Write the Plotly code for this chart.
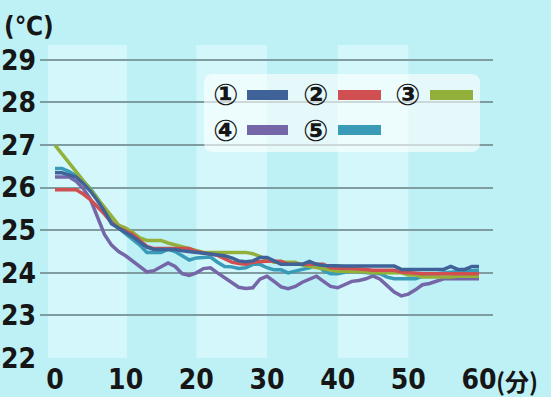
import plotly.graph_objects as go

# ---- data ----
minutes = list(range(0, 61))
tick_vals = [0, 10, 20, 30, 40, 50, 60]
tick_text = ["0", "10", "20", "30", "40", "50", "60"]
y_ticks = [22, 23, 24, 25, 26, 27, 28, 29]
series_names = ["①", "②", "③", "④", "⑤"]

s1 = [26.35, 26.35, 26.3, 26.25, 26.1, 25.92, 25.7, 25.45, 25.15, 25.05,
      24.95, 24.85, 24.72, 24.6, 24.55, 24.55, 24.55, 24.55, 24.52, 24.5,
      24.48, 24.47, 24.45, 24.42, 24.4, 24.35, 24.28, 24.26, 24.28, 24.36,
      24.36, 24.28, 24.2, 24.2, 24.2, 24.2, 24.27, 24.2, 24.17, 24.16,
      24.16, 24.16, 24.16, 24.16, 24.16, 24.16, 24.16, 24.16, 24.16, 24.08,
      24.08, 24.08, 24.08, 24.08, 24.08, 24.08, 24.15, 24.08, 24.08, 24.15,
      24.15]
s2 = [25.95, 25.95, 25.95, 25.95, 25.85, 25.72, 25.55, 25.38, 25.18, 25.05,
      24.98, 24.9, 24.76, 24.62, 24.57, 24.57, 24.57, 24.57, 24.57, 24.57,
      24.5, 24.47, 24.45, 24.41, 24.33, 24.25, 24.22, 24.2, 24.25, 24.27,
      24.27, 24.27, 24.27, 24.2, 24.2, 24.2, 24.2, 24.2, 24.2, 24.12,
      24.1, 24.1, 24.1, 24.1, 24.08, 24.06, 24.06, 24.06, 24.06, 24.02,
      24.0, 23.98, 23.98, 23.98, 23.98, 23.98, 23.98, 23.98, 23.98, 23.98,
      23.98]
s3 = [27.0, 26.79, 26.58, 26.37, 26.16, 25.94, 25.73, 25.52, 25.31, 25.12,
      25.05, 24.95, 24.82, 24.76, 24.76, 24.76, 24.7, 24.66, 24.62, 24.57,
      24.52, 24.48, 24.48, 24.48, 24.48, 24.48, 24.48, 24.48, 24.45, 24.38,
      24.33, 24.25, 24.25, 24.25, 24.25, 24.18, 24.15, 24.12, 24.08, 24.05,
      24.04, 24.04, 24.04, 24.04, 24.02, 24.0, 24.0, 24.0, 24.0, 24.0,
      23.95, 23.95, 23.9, 23.9, 23.88, 23.88, 23.9, 23.92, 23.92, 23.92,
      23.92]
s4 = [26.25, 26.25, 26.25, 26.15, 25.98, 25.73, 25.3, 24.9, 24.65, 24.5,
      24.4, 24.28, 24.15, 24.02, 24.05, 24.15, 24.23, 24.15, 23.98, 23.94,
      24.0, 24.1, 24.12, 24.0, 23.88, 23.76, 23.66, 23.63, 23.65, 23.85,
      23.92, 23.8, 23.67, 23.63, 23.68, 23.78, 23.84, 23.92, 23.8, 23.68,
      23.65, 23.72, 23.8, 23.82, 23.86, 23.93, 23.85, 23.7, 23.55, 23.46,
      23.5, 23.6, 23.72, 23.75, 23.8, 23.86, 23.86, 23.86, 23.86, 23.86,
      23.86]
s5 = [26.45, 26.45, 26.38, 26.28, 26.15, 25.98, 25.75, 25.48, 25.2, 25.05,
      24.92, 24.8, 24.65, 24.48, 24.48, 24.48, 24.55, 24.5, 24.4, 24.3,
      24.35, 24.37, 24.37, 24.25, 24.15, 24.14, 24.1, 24.12, 24.2, 24.2,
      24.12, 24.07, 24.07, 24.0, 24.05, 24.08, 24.12, 24.2, 24.05, 23.98,
      23.98, 24.02, 24.05, 24.02, 24.0, 24.0, 23.98, 23.9, 23.86, 23.86,
      23.86, 23.86, 23.92, 23.98, 23.98, 24.0, 24.02, 24.05, 24.05, 24.05,
      24.06]

colors = ["#3f6298", "#d04f50", "#93b03a", "#7566a8", "#3a9bb8"]
all_series = [s1, s2, s3, s4, s5]
bands = [(-1.0, 10.2), (20, 30), (40, 50)]

BG = "#bdf1f6"
BAND = "#d3f7fa"
GRID = "#7f9da1"
TXT = "#161616"
NUM_FONT = "Liberation Sans Narrow, DejaVu Sans Condensed, sans-serif"
CJK_FONT = "Noto Sans CJK JP, sans-serif"
CIRC_FONT = "DejaVu Sans, Noto Sans CJK JP, sans-serif"

fig = go.Figure()
order = [3, 4, 2, 1, 0]
for i in order:
    fig.add_trace(go.Scatter(x=minutes, y=all_series[i], mode="lines",
                             line=dict(color=colors[i], width=3.5),
                             name=series_names[i], showlegend=False))

shapes = []
for a, b in bands:
    shapes.append(dict(type="rect", xref="x", yref="paper", x0=a, x1=b, y0=0, y1=1,
                       fillcolor=BAND, line=dict(width=0), layer="below"))

W, H = 453.0, 313.0
def px(xp):
    return (xp - 40) / W
def py(yp):
    return (358 - yp) / H

x0, x1, y0, y1 = px(204), px(480), py(152), py(74)
rx, ry = 9 / W, 9 / H
path = (f"M {x0+rx},{y0} L {x1-rx},{y0} Q {x1},{y0} {x1},{y0+ry} "
        f"L {x1},{y1-ry} Q {x1},{y1} {x1-rx},{y1} L {x0+rx},{y1} "
        f"Q {x0},{y1} {x0},{y1-ry} L {x0},{y0+ry} Q {x0},{y0} {x0+rx},{y0} Z")
shapes.append(dict(type="path", xref="paper", yref="paper", path=path,
                   fillcolor="rgba(255,255,255,0.6)", line=dict(width=0), layer="above"))

legend_pos = [(225, 95, 247, 288), (315, 95, 338, 381), (407, 95, 430, 473),
              (225, 130, 247, 288), (315, 130, 338, 381)]
annotations = []
for i, (cx, cy, lx0, lx1) in enumerate(legend_pos):
    shapes.append(dict(type="line", xref="paper", yref="paper",
                       x0=px(lx0), x1=px(lx1), y0=py(cy), y1=py(cy),
                       line=dict(color=colors[i], width=10), layer="above"))
    annotations.append(dict(text=series_names[i], xref="paper", yref="paper",
                            x=px(cx), y=py(cy), showarrow=False,
                            xanchor="center", yanchor="middle",
                            font=dict(family=CIRC_FONT, size=30, color=TXT, weight="bold")))

annotations.append(dict(text="(℃)", xref="paper", yref="paper", x=px(29), y=py(26),
                        showarrow=False, xanchor="center", yanchor="middle",
                        font=dict(family=NUM_FONT, size=26, color=TXT, weight="bold")))
annotations.append(dict(text="(分)", xref="paper", yref="paper", x=px(494), y=py(380),
                        showarrow=False, xanchor="left", yanchor="middle",
                        font=dict(family=CJK_FONT, size=24, color=TXT, weight="bold")))

fig.update_layout(
    width=551, height=397,
    margin=dict(l=40, r=58, t=45, b=39),
    paper_bgcolor=BG, plot_bgcolor=BG,
    shapes=shapes, annotations=annotations,
    showlegend=False,
)
fig.update_xaxes(range=[-2.12, 61.98], tickvals=tick_vals, ticktext=tick_text,
                 showgrid=False, zeroline=False, showline=False, ticks="",
                 automargin=False,
                 tickfont=dict(family=NUM_FONT, size=28, color=TXT, weight="bold"),
                 ticklabelstandoff=2)
fig.update_yaxes(range=[22, 29.35], tickvals=y_ticks, showgrid=True,
                 gridcolor=GRID, gridwidth=1.5, zeroline=False, showline=False,
                 automargin=False,
                 ticks="", tickfont=dict(family=NUM_FONT, size=28, color=TXT, weight="bold"),
                 ticklabelstandoff=3)

fig.write_html("out.html", config={"displayModeBar": False},
               post_script="document.body.style.margin='0';document.body.style.background='#bdf1f6';")
